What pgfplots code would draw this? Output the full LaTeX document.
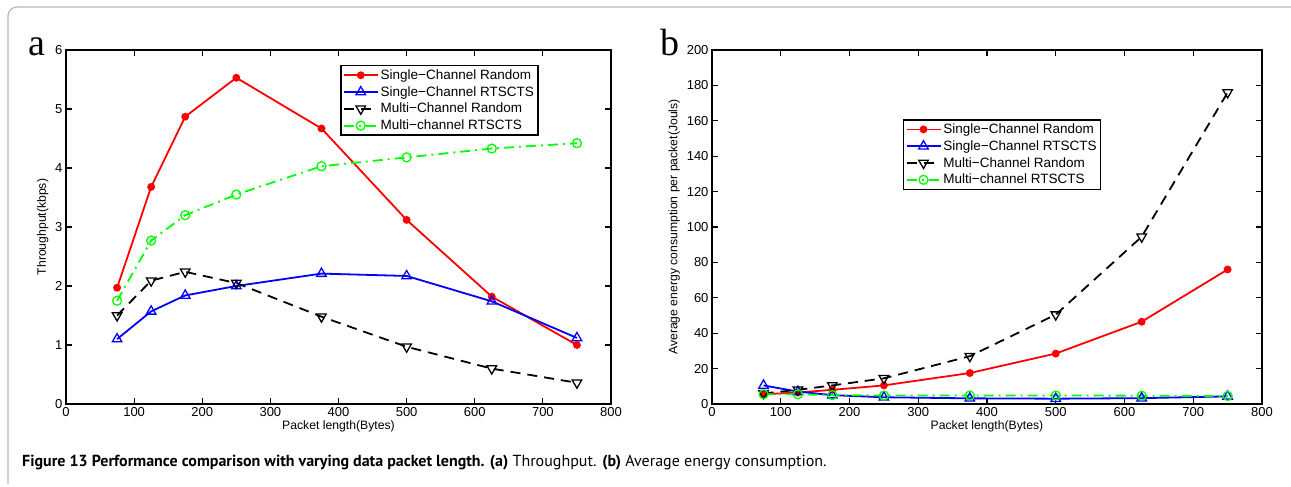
\documentclass[border=0pt]{standalone}
\usepackage{fontspec}
\setmainfont{Liberation Sans}
\newfontfamily\serif{Liberation Serif}
\newfontfamily\capfont{PT Sans}
\usepackage{pgfplots}
\pgfplotsset{compat=1.18}
\definecolor{mgreen}{rgb}{0,1,0}
\pgfplotsset{
  matstyle/.style={
    scale only axis, anchor=south west,
    height=354pt,
    xmin=0, xmax=800, xtick={0,100,...,800},
    tick align=inside, major tick length=6pt,
    axis line style={line width=1.6pt},
    every tick/.style={black, line width=1.2pt},
    ticklabel style={font=\fontsize{13}{13}\selectfont},
    label style={font=\fontsize{12.2}{12}\selectfont},
    /pgf/number format/assume math mode=true,
    xlabel={Packet length(Bytes)},
    xlabel style={yshift=3pt},
    legend cell align=left,
    legend style={draw=black, line width=1.5pt, font=\fontsize{13.5}{14}\selectfont,
      inner sep=2pt, row sep=1.5pt, anchor=north west,
      nodes={inner sep=2pt}},
    legend image code/.code={\draw[mark repeat=2,mark phase=2,##1] plot coordinates {(0pt,0pt) (17pt,0pt) (34pt,0pt)};},
  },
  scr/.style={red, solid, line width=1.8pt, mark=*, mark size=3pt, mark options={solid}},
  scrts/.style={blue, solid, line width=1.8pt, mark=triangle, mark size=5.5pt, mark options={solid, line width=1.3pt}},
  mcr/.style={black, line width=1.8pt, dash pattern=on 10pt off 7pt, mark=triangle, mark size=5.5pt, mark options={solid, rotate=180, line width=1.3pt}},
  mcrts/.style={mgreen, line width=1.8pt, dash pattern=on 10pt off 5pt on 2pt off 5pt, mark=o, mark size=4.5pt, mark options={solid, line width=1.3pt}},
}
\begin{document}
\begin{tikzpicture}
\path[use as bounding box] (0,0) rectangle (1291pt,487pt);
\draw[gray!55, line width=1.3pt, rounded corners=9pt] (8pt,3pt) -- (8pt,480pt) -- (1291pt,480pt);

\node[anchor=base, font=\serif\fontsize{38}{38}\selectfont] at (37pt,431pt) {a};
\node[anchor=base west, inner sep=0pt, font=\serif\fontsize{38}{38}\selectfont] at (660pt,431pt) {b};

\begin{axis}[matstyle, at={(66pt,83pt)}, width=545pt,
  ymin=0, ymax=6, ytick={0,1,...,6},
  ylabel={Throughput(kbps)},
  legend style={at={(0.503,0.958)}}]
\addplot[scr] coordinates {(75,1.97) (125,3.68) (175,4.87) (250,5.53) (375,4.67) (500,3.12) (625,1.82) (750,1.0)};
\addlegendentry{Single−Channel Random}
\addplot[scrts] coordinates {(75,1.10) (125,1.57) (175,1.84) (250,2.00) (375,2.21) (500,2.17) (625,1.74) (750,1.12)};
\addlegendentry{Single−Channel RTSCTS}
\addplot[mcr] coordinates {(75,1.50) (125,2.09) (175,2.24) (250,2.05) (375,1.48) (500,0.97) (625,0.60) (750,0.36)};
\addlegendentry{Multi−Channel Random}
\addplot[mcrts] coordinates {(75,1.75) (125,2.77) (175,3.20) (250,3.55) (375,4.03) (500,4.18) (625,4.33) (750,4.42)};
\addlegendentry{Multi−channel RTSCTS}
\end{axis}

\begin{axis}[matstyle, at={(712pt,83pt)}, width=550pt,
  ymin=0, ymax=200, ytick={0,20,...,200},
  ylabel={Average energy consumption per packet(Jouls)},
  legend style={at={(0.347,0.805)}}]
\addplot[scr] coordinates {(75,5.5) (125,6.5) (175,8.0) (250,10.5) (375,17.5) (500,28.5) (625,46.5) (750,76)};
\addlegendentry{Single−Channel Random}
\addplot[scrts] coordinates {(75,10.5) (125,7.0) (175,5.0) (250,3.8) (375,3.2) (500,3.0) (625,3.3) (750,4.3)};
\addlegendentry{Single−Channel RTSCTS}
\addplot[mcr] coordinates {(75,6.0) (125,8.0) (175,10.5) (250,14.5) (375,27) (500,50.5) (625,94.5) (750,176)};
\addlegendentry{Multi−Channel Random}
\addplot[mcrts] coordinates {(75,5.5) (125,5.5) (175,5.0) (250,4.8) (375,4.8) (500,4.8) (625,4.7) (750,4.5)};
\addlegendentry{Multi−channel RTSCTS}
\end{axis}

\node[anchor=base west, inner sep=0pt, font=\capfont\fontsize{16}{16}\selectfont] at (22pt,20pt)
  {\textbf{Figure 13 Performance comparison with varying data packet length. (a)} Throughput. \textbf{(b)} Average energy consumption.};
\end{tikzpicture}
\end{document}
